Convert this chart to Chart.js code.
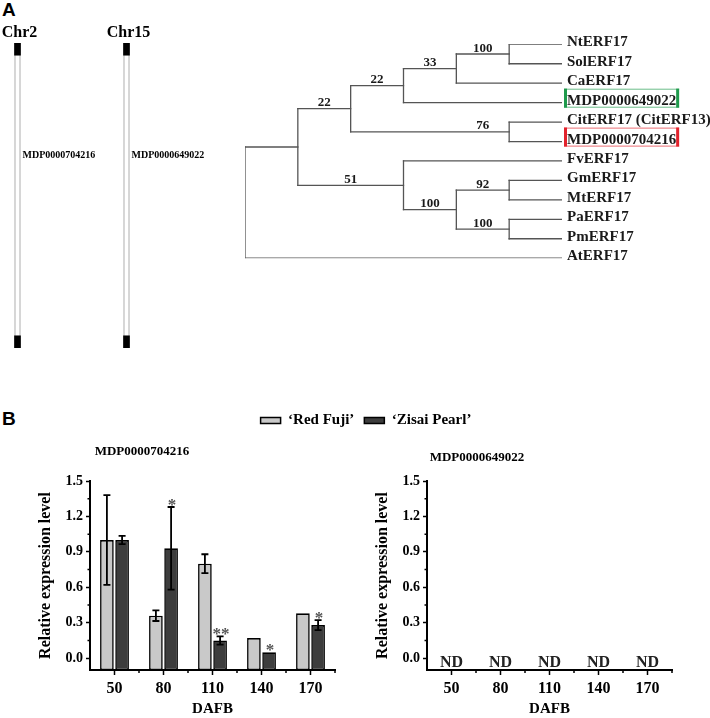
<!DOCTYPE html>
<html>
<head>
<meta charset="utf-8">
<script src="https://cdn.jsdelivr.net/npm/chart.js@4.4.1/dist/chart.umd.min.js"></script>
<style>
  html, body { margin: 0; padding: 0; background: #fff; overflow: hidden; }
  body { width: 710px; height: 718px; position: relative; }
  canvas { position: absolute; }
  .panel { position: absolute; font: bold 19px "Liberation Sans", Arial, sans-serif; color: #000; }
</style>
</head>
<body>
<div class="panel" style="left:2px;top:-1px">A</div>
<div class="panel" style="left:2px;top:408px">B</div>
<canvas id="chrom" width="258" height="360" style="left:-37px;top:0"></canvas>
<canvas id="tree" width="480" height="245" style="left:230px;top:30px"></canvas>
<canvas id="legend" width="710" height="80" style="left:0;top:403px"></canvas>
<canvas id="expr1" width="345" height="288" style="left:0;top:430px"></canvas>
<canvas id="expr2" width="345" height="288" style="left:337px;top:430px"></canvas>
<script>
// ---- panel A: chromosome locations
const chromosomes = ['Chr2', 'Chr15'];
const chromGenes = ['MDP0000704216', 'MDP0000649022'];
const genePosition = [37, 37];   // % along chromosome
const capLength = 4;

// ---- panel A: phylogenetic tree
const treeLeaves = ['NtERF17', 'SolERF17', 'CaERF17', 'MDP0000649022', 'CitERF17 (CitERF13)',
  'MDP0000704216', 'FvERF17', 'GmERF17', 'MtERF17', 'PaERF17', 'PmERF17', 'AtERF17'];
const leafDepth = 6;
// [node, depth, child, child, bootstrap]
const treeNodes = [
  ['n1', 5, 'NtERF17', 'SolERF17', 100],
  ['n2', 4, 'n1', 'CaERF17', 33],
  ['n3', 3, 'n2', 'MDP0000649022', 22],
  ['n4', 5, 'CitERF17 (CitERF13)', 'MDP0000704216', 76],
  ['n5', 2, 'n3', 'n4', 22],
  ['n6', 5, 'GmERF17', 'MtERF17', 92],
  ['n7', 5, 'PaERF17', 'PmERF17', 100],
  ['n8', 4, 'n6', 'n7', 100],
  ['n9', 3, 'FvERF17', 'n8', 51],
  ['n10', 1, 'n5', 'n9', null],
  ['root', 0, 'n10', 'AtERF17', null]
];
const highlighted = { 'MDP0000649022': '#1f9a4c', 'MDP0000704216': '#e2222c' };

// ---- panel B: qRT-PCR
const dafb = ['50', '80', '110', '140', '170'];
const cultivars = ['\u2018Red Fuji\u2019', '\u2018Zisai Pearl\u2019'];
const redFuji = [1.00, 0.36, 0.80, 0.17, 0.38];
const redFujiErr = [0.38, 0.045, 0.08, 0, 0];
const zisaiPearl = [1.00, 0.93, 0.15, 0.05, 0.28];
const zisaiPearlErr = [0.035, 0.35, 0.035, 0, 0.043];
const zisaiSig = ['', '*', '**', '*', '*'];
const notDetected = [null, null, null, null, null];
const yTicks = [0, 0.3, 0.6, 0.9, 1.2, 1.5];

const serif = '"Liberation Serif", "Times New Roman", serif';
const barFill = ['#c9c9c9', '#3d3d3d'];

// chromosomes
const chromLabels = {
  id: 'chromLabels',
  afterDraw(chart) {
    const {ctx, chartArea, scales: {x, y}} = chart;
    ctx.save();
    ctx.fillStyle = '#000';
    chromosomes.forEach((c, i) => {
      const px = x.getPixelForValue(i);
      ctx.font = 'bold 16px ' + serif;
      ctx.textAlign = 'center';
      ctx.textBaseline = 'alphabetic';
      ctx.fillText(c, px + 2, chartArea.top - 6);
      ctx.font = 'bold 10px ' + serif;
      ctx.textAlign = 'left';
      ctx.textBaseline = 'middle';
      ctx.fillText(chromGenes[i], px + 5, y.getPixelForValue(genePosition[i]));
    });
    ctx.restore();
  }
};

// the last dataset is painted first, so the white body goes last
new Chart(document.getElementById('chrom'), {
  type: 'bar',
  data: {
    labels: chromosomes,
    datasets: [
      { data: chromosomes.map(() => [0, capLength]), backgroundColor: '#000', barThickness: 6, grouped: false },
      { data: chromosomes.map(() => [100 - capLength, 100]), backgroundColor: '#000', barThickness: 6, grouped: false },
      { data: chromosomes.map(() => [0, 100]), backgroundColor: '#fff', borderColor: '#c4c4c4',
        borderWidth: 1.5, borderSkipped: false, barThickness: 6, grouped: false }
    ]
  },
  options: {
    responsive: false, animation: false,
    layout: { padding: { top: 43, bottom: 12, left: 0, right: 40 } },
    scales: {
      x: { display: false },
      y: { display: false, reverse: true, min: 0, max: 100 }
    },
    plugins: { legend: { display: false }, tooltip: { enabled: false } }
  },
  plugins: [chromLabels]
});

// tree layout
const pos = {};
const parentDepth = {};
treeLeaves.forEach((name, i) => { pos[name] = { x: leafDepth, y: i }; });
treeNodes.forEach(([id, depth, a, b]) => {
  pos[id] = { x: depth, y: (pos[a].y + pos[b].y) / 2 };
  parentDepth[a] = depth;
  parentDepth[b] = depth;
});
const segments = [];
treeNodes.forEach(([id, depth, a, b]) => {
  segments.push([{ x: depth, y: pos[a].y }, { x: depth, y: pos[b].y }]);
  [a, b].forEach(c => segments.push([{ x: depth, y: pos[c].y }, { x: pos[c].x, y: pos[c].y }]));
});

const treeLabels = {
  id: 'treeLabels',
  afterDraw(chart) {
    const {ctx, scales: {x, y}} = chart;
    ctx.save();
    ctx.font = 'bold 15px ' + serif;
    ctx.textAlign = 'left';
    ctx.textBaseline = 'alphabetic';
    treeLeaves.forEach((name, i) => {
      const px = x.getPixelForValue(leafDepth) + 5;
      const py = y.getPixelForValue(i);
      const col = highlighted[name];
      if (col) {
        const w = ctx.measureText(name).width;
        ctx.fillStyle = col;
        ctx.globalAlpha = 0.55;
        ctx.fillRect(px - 3, py - 14, w + 6, 1.2);
        ctx.fillRect(px - 3, py + 4, w + 6, 1.2);
        ctx.globalAlpha = 1;
        ctx.fillRect(px - 3, py - 14, 3, 19);
        ctx.fillRect(px + w, py - 14, 3, 19);
      }
      ctx.fillStyle = '#1a1a1a';
      ctx.fillText(name, px, py + 2);
    });
    ctx.font = 'bold 13px ' + serif;
    ctx.textAlign = 'center';
    treeNodes.forEach(([id, depth, a, b, boot]) => {
      if (boot == null) return;
      // long branches carry their value near the node
      const from = parentDepth[id];
      const at = depth - from > 2 ? depth - 0.5 : (depth + from) / 2;
      ctx.fillText(String(boot), x.getPixelForValue(at), y.getPixelForValue(pos[id].y) - 2.5);
    });
    ctx.restore();
  }
};

new Chart(document.getElementById('tree'), {
  type: 'scatter',
  data: {
    datasets: segments.map(s => ({
      data: s, showLine: true, borderColor: '#555', borderWidth: 1.3,
      pointRadius: 0, borderCapStyle: 'square'
    }))
  },
  options: {
    responsive: false, animation: false,
    layout: { padding: { left: 15, right: 148, top: 14.3, bottom: 16.8 } },
    scales: {
      x: { display: false, min: 0, max: leafDepth },
      y: { display: false, min: 0, max: treeLeaves.length - 1, reverse: true }
    },
    plugins: { legend: { display: false }, tooltip: { enabled: false } }
  },
  plugins: [treeLabels]
});

// legend
new Chart(document.getElementById('legend'), {
  type: 'bar',
  data: {
    labels: [],
    datasets: cultivars.map((c, i) => ({
      label: c, data: [], backgroundColor: barFill[i], borderColor: '#000', borderWidth: 1.5
    }))
  },
  options: {
    responsive: false, animation: false,
    layout: { padding: { left: 22 } },
    scales: { x: { display: false }, y: { display: false } },
    plugins: {
      tooltip: { enabled: false },
      legend: {
        position: 'top',
        labels: { boxWidth: 20, boxHeight: 6, padding: 10, color: '#000',
                  font: { family: serif, size: 15, weight: 'bold' } }
      }
    }
  }
});

// expression charts
const errorBars = {
  id: 'errorBars',
  afterDatasetsDraw(chart) {
    const {ctx, scales: {y}} = chart;
    ctx.save();
    ctx.strokeStyle = '#000';
    ctx.lineWidth = 1.8;
    chart.data.datasets.forEach((ds, di) => {
      chart.getDatasetMeta(di).data.forEach((bar, i) => {
        const v = ds.data[i];
        if (v == null) return;
        const e = ds.err ? ds.err[i] : 0;
        const top = y.getPixelForValue(v + e);
        if (e) {
          const bot = y.getPixelForValue(v - e);
          ctx.beginPath();
          ctx.moveTo(bar.x, top); ctx.lineTo(bar.x, bot);
          ctx.moveTo(bar.x - 3.5, top); ctx.lineTo(bar.x + 3.5, top);
          ctx.moveTo(bar.x - 3.5, bot); ctx.lineTo(bar.x + 3.5, bot);
          ctx.stroke();
        }
        if (ds.sig && ds.sig[i]) {
          ctx.fillStyle = '#555';
          ctx.font = 'bold 17px ' + serif;
          ctx.textAlign = 'center';
          ctx.textBaseline = 'alphabetic';
          ctx.fillText(ds.sig[i], bar.x + 1, top + 3);
        }
      });
    });
    // not detected
    dafb.forEach((d, i) => {
      if (chart.data.datasets.every(ds => ds.data[i] == null)) {
        ctx.fillStyle = '#222';
        ctx.font = 'bold 16px ' + serif;
        ctx.textAlign = 'center';
        ctx.textBaseline = 'middle';
        ctx.fillText('ND', chart.scales.x.getPixelForValue(i), y.getPixelForValue(0) + 5);
      }
    });
    ctx.restore();
  }
};

const minorTicks = {
  id: 'minorTicks',
  afterDraw(chart, args, opts) {
    const {ctx, chartArea: a, scales: {x, y}} = chart;
    ctx.save();
    ctx.strokeStyle = '#000';
    ctx.lineWidth = 1.5;
    ctx.beginPath();
    for (let i = 0; i < yTicks.length - 1; i++) {
      const py = y.getPixelForValue((yTicks[i] + yTicks[i + 1]) / 2);
      ctx.moveTo(a.left, py); ctx.lineTo(a.left - 2.5, py);
    }
    for (let i = 1; i <= dafb.length; i++) {
      const px = x.getPixelForValue(i - 0.5);
      ctx.moveTo(px, a.bottom); ctx.lineTo(px, a.bottom + 3);
    }
    ctx.stroke();
    // panel title
    ctx.fillStyle = '#000';
    ctx.font = 'bold 13px ' + serif;
    ctx.textAlign = 'center';
    ctx.textBaseline = 'middle';
    ctx.fillText(opts.title, a.left + opts.dx, a.top - opts.dy);
    ctx.restore();
  }
};

function expressionChart(id, title, dx, dy, rf, rfErr, zp, zpErr, sig) {
  const font = size => ({ family: serif, size: size, weight: 'bold' });
  return new Chart(document.getElementById(id), {
    type: 'bar',
    data: {
      labels: dafb,
      datasets: [
        { label: cultivars[0], data: rf, err: rfErr, backgroundColor: barFill[0], borderColor: '#000',
          borderWidth: 1.6, borderSkipped: false, base: -0.1, categoryPercentage: 0.62, barPercentage: 0.9 },
        { label: cultivars[1], data: zp, err: zpErr, sig: sig, backgroundColor: barFill[1], borderColor: '#000',
          borderWidth: 1.6, borderSkipped: false, base: -0.1, categoryPercentage: 0.62, barPercentage: 0.9 }
      ]
    },
    options: {
      responsive: false, animation: false,
      layout: { padding: { top: 51, right: 10, left: 0, bottom: 0 } },
      plugins: {
        legend: { display: false }, tooltip: { enabled: false },
        minorTicks: { title: title, dx: dx, dy: dy }
      },
      scales: {
        x: {
          grid: { offset: false, drawOnChartArea: false, tickLength: 5, tickColor: '#000', tickWidth: 1.5 },
          border: { color: '#000', width: 2 },
          ticks: { color: '#000', font: font(16), padding: 4 },
          title: { display: true, text: 'DAFB', color: '#000', font: font(15), padding: 0 },
          afterFit: s => { s.height = 48; }
        },
        y: {
          min: -0.1, max: 1.5,
          afterBuildTicks: s => { s.ticks = yTicks.map(v => ({ value: v })); },
          grid: { drawOnChartArea: false, tickLength: 4, tickColor: '#000', tickWidth: 1.5 },
          border: { color: '#000', width: 2 },
          ticks: { color: '#000', font: font(14), padding: 3, callback: v => v.toFixed(1) },
          title: { display: true, text: 'Relative expression level', color: '#000', font: font(16),
                   padding: { top: 36, bottom: 0 } },
          afterFit: s => { s.width = 90; }
        }
      }
    },
    plugins: [errorBars, minorTicks]
  });
}

expressionChart('expr1', 'MDP0000704216', 52, 29, redFuji, redFujiErr, zisaiPearl, zisaiPearlErr, zisaiSig);
expressionChart('expr2', 'MDP0000649022', 50, 23, notDetected, null, notDetected, null, null);
</script>
</body>
</html>
